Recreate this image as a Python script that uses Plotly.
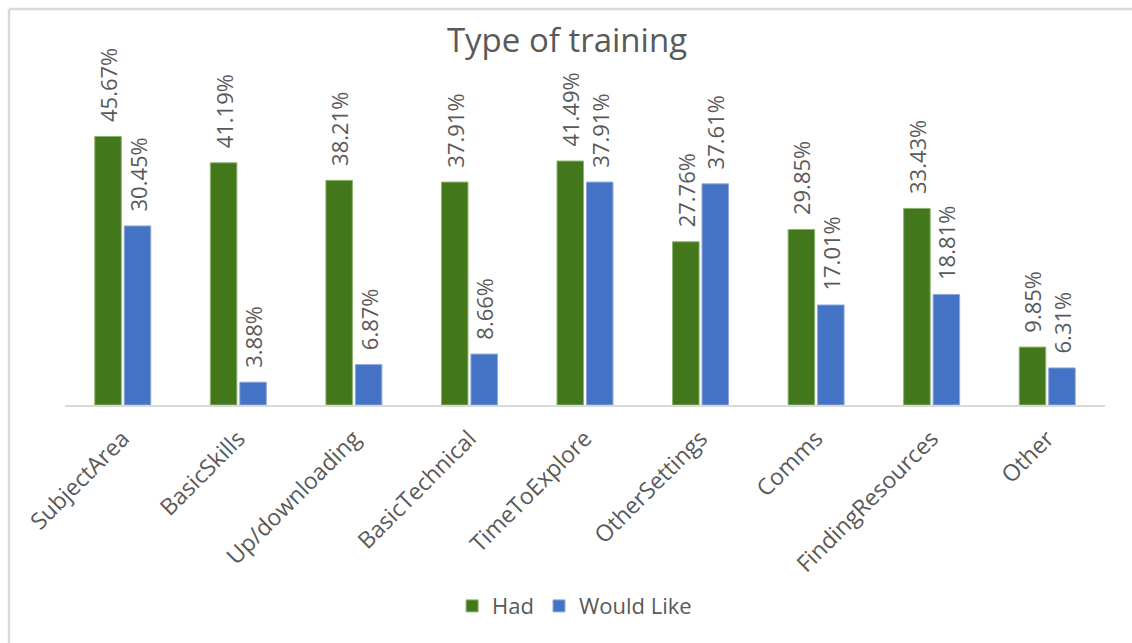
import plotly.graph_objects as go

categories = ["SubjectArea", "BasicSkills", "Up/downloading", "BasicTechnical",
              "TimeToExplore", "OtherSettings", "Comms", "FindingResources", "Other"]
had = [45.67, 41.19, 38.21, 37.91, 41.49, 27.76, 29.85, 33.43, 9.85]
would_like = [30.45, 3.88, 6.87, 8.66, 37.91, 37.61, 17.01, 18.81, 6.31]

FONT = "Open Sans"
TXT = "#595959"
GREEN = "#43771C"
BLUE = "#4472C4"

fig = go.Figure()
for name, vals, col, lcol in [("Had", had, GREEN, "#8DB36F"), ("Would Like", would_like, BLUE, "#8EA9DB")]:
    fig.add_trace(go.Bar(
        x=categories, y=vals, name=name,
        marker=dict(color=col, line=dict(color=lcol, width=1)),
        texttemplate="\u00a0\u00a0%{y:.2f}%", textposition="outside", textangle=-90,
        textfont=dict(family=FONT, size=22, color=TXT),
        constraintext="none", cliponaxis=False,
    ))

fig.update_layout(
    width=1132, height=643,
    margin=dict(l=65, r=27, t=111, b=238),
    paper_bgcolor="white", plot_bgcolor="white",
    barmode="group", bargap=0.49, bargroupgap=0.1,
    title=dict(text="Type of training", x=(567 - 65) / 1040, xanchor="center", xref="paper",
               y=1 - 40 / 643, yanchor="middle", yref="container",
               font=dict(family=FONT, size=33, color=TXT)),
    showlegend=True,
    legend=dict(orientation="h", x=0.49, xanchor="center", y=-0.684, yanchor="middle",
                font=dict(family=FONT, size=22, color=TXT), itemwidth=30),
    xaxis=dict(tickangle=-45, tickfont=dict(family=FONT, size=23, color=TXT),
               showline=True, linecolor="#D9D9D9", linewidth=2,
               ticks="outside", ticklen=9, tickcolor="rgba(0,0,0,0)", showgrid=False),
    yaxis=dict(range=[0, 50], visible=False, showgrid=False),
)
# chart frame (top and left edges visible in reference crop)
fig.add_shape(type="line", xref="paper", yref="paper", x0=-56/1040, x1=1.1, y0=1 + 102/294, y1=1 + 102/294,
              line=dict(color="#D9D9D9", width=2.5))
fig.add_shape(type="line", xref="paper", yref="paper", x0=-56/1040, x1=-56/1040, y0=1 + 102/294, y1=-1,
              line=dict(color="#D9D9D9", width=2.5))

fig.write_html("out.html")
